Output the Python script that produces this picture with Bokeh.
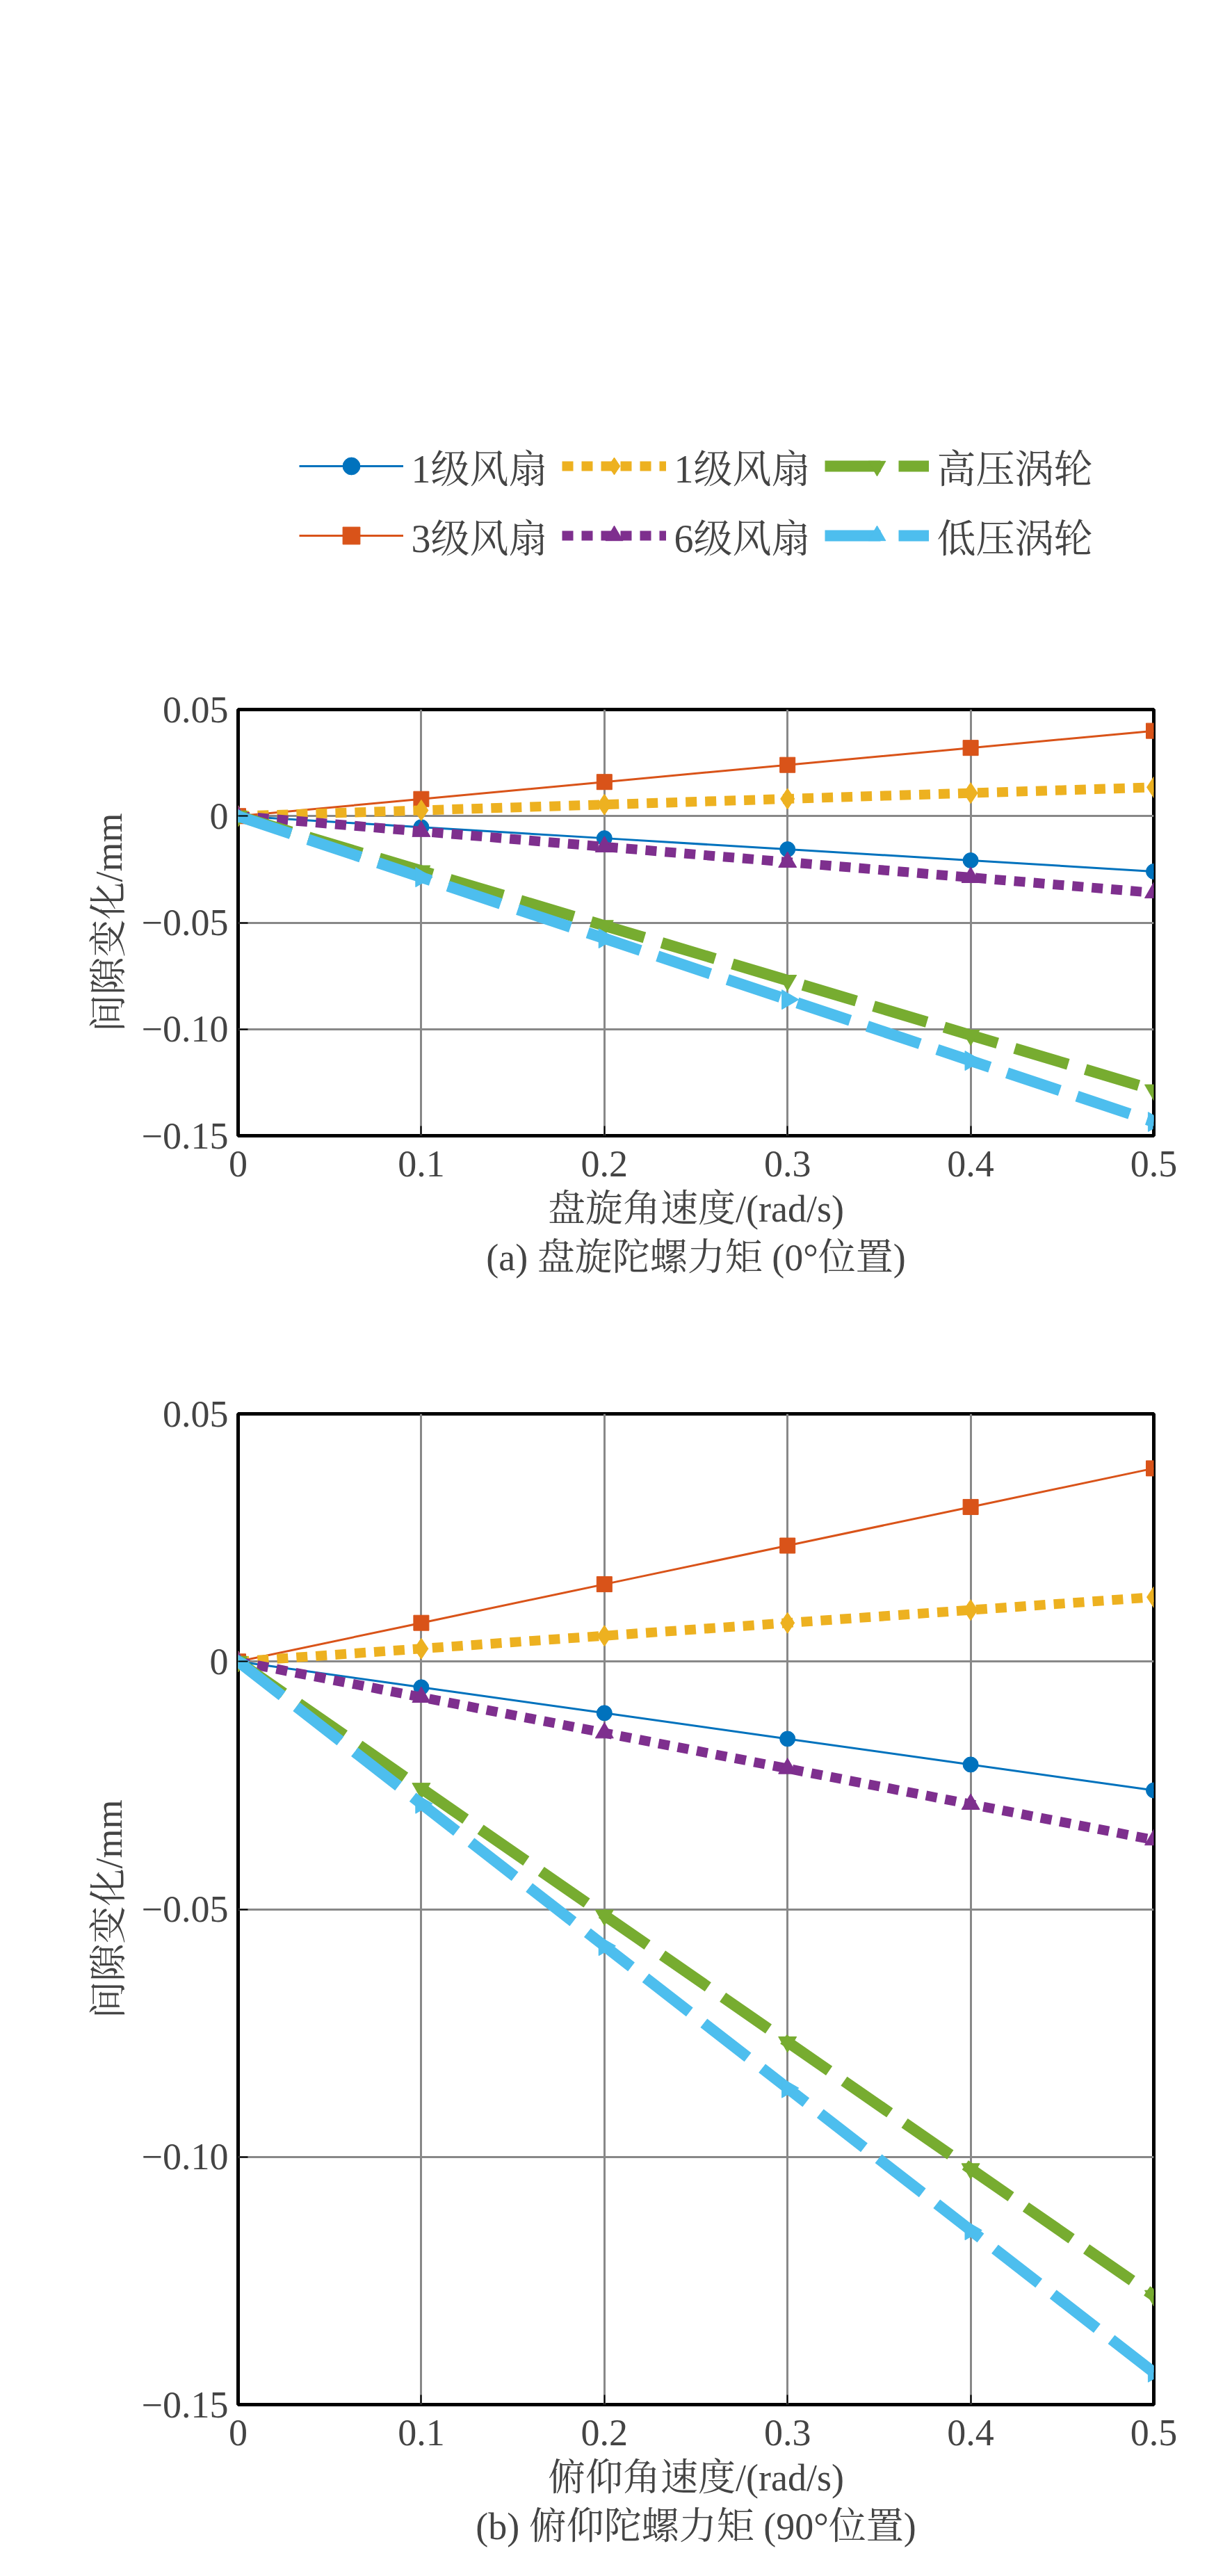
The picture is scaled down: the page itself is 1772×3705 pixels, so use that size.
from bokeh.plotting import figure
from bokeh.layouts import column
from bokeh.models import Legend, LegendItem, Title, FixedTicker, Range1d
from bokeh.embed import file_html
from bokeh.resources import INLINE

x = [0, 0.1, 0.2, 0.3, 0.4, 0.5]
names = ["1级风扇", "3级风扇", "1级风扇", "6级风扇", "高压涡轮", "低压涡轮"]
a_vals = [
    [0, -0.0052, -0.0104, -0.0156, -0.0208, -0.026],
    [0, 0.008, 0.016, 0.024, 0.032, 0.040],
    [0, 0.0027, 0.0054, 0.0081, 0.0108, 0.0135],
    [0, -0.0072, -0.0144, -0.0216, -0.0288, -0.036],
    [0, -0.0257, -0.0514, -0.0771, -0.1028, -0.1285],
    [0, -0.0287, -0.0574, -0.0861, -0.1148, -0.1435],
]
b_vals = [
    [0, -0.0052, -0.0104, -0.0156, -0.0208, -0.026],
    [0, 0.0078, 0.0156, 0.0234, 0.0312, 0.039],
    [0, 0.0026, 0.0052, 0.0078, 0.0104, 0.013],
    [0, -0.0072, -0.0144, -0.0216, -0.0288, -0.036],
    [0, -0.0256, -0.0512, -0.0768, -0.1024, -0.128],
    [0, -0.0287, -0.0574, -0.0861, -0.1148, -0.1435],
]
yticks = [-0.15, -0.10, -0.05, 0, 0.05]
ytick_labels = {-0.15: "−0.15", -0.1: "−0.10", -0.05: "−0.05", 0: "0", 0.05: "0.05"}
xtick_labels = {0: "0", 0.1: "0.1", 0.2: "0.2", 0.3: "0.3", 0.4: "0.4", 0.5: "0.5"}

colors = ["#0072BD", "#D95319", "#EDB120", "#7E2F8E", "#77AC30", "#4DBEEE"]
markers = ["circle", "square", "diamond", "triangle", "inverted_triangle", "triangle"]
angles = [0, 0, 0, 0, 0, -1.5708]
widths = [3, 3, 14, 14, 16, 16]
dashes = ["solid", "solid", "16 12", "16 12", "80 26", "80 26"]
msize = [22, 22, 30, 26, 26, 28]
FONT = "Liberation Serif, Noto Serif CJK SC, Noto Sans CJK SC"


def make(vals, xlabel, caption, top, legend):
    bottom = 230
    p = figure(width=1740, height=top + 1425 + bottom, output_backend="svg",
               toolbar_location=None, x_range=Range1d(0, 0.5), y_range=Range1d(-0.15, 0.05),
               min_border_left=342, min_border_right=81, min_border_top=0 if legend else top,
               min_border_bottom=bottom)
    p.outline_line_color = "black"
    p.outline_line_width = 5
    items = []
    for i in range(6):
        r = p.line(x, vals[i], line_color=colors[i], line_width=widths[i], line_dash=dashes[i])
        m = p.scatter(x, vals[i], marker=markers[i], size=msize[i], angle=angles[i],
                      fill_color=colors[i], line_color=colors[i])
        items.append(LegendItem(label=names[i], renderers=[r, m]))
    for ax in (p.xaxis[0], p.yaxis[0]):
        ax.axis_line_color = None
        ax.major_tick_in = 14
        ax.major_tick_out = 0
        ax.minor_tick_line_color = None
        ax.major_label_text_font = FONT
        ax.major_label_text_font_size = "54px"
        ax.axis_label_text_font = FONT
        ax.axis_label_text_font_size = "54px"
        ax.axis_label_text_font_style = "normal"
        ax.major_tick_line_width = 2
        ax.axis_label_standoff = 14
    p.xaxis.major_label_standoff = 22
    p.yaxis.major_label_standoff = 14
    p.xaxis.ticker = FixedTicker(ticks=x)
    p.xaxis.major_label_overrides = xtick_labels
    p.yaxis.ticker = FixedTicker(ticks=yticks)
    p.yaxis.major_label_overrides = ytick_labels
    p.xaxis.axis_label = xlabel
    p.yaxis.axis_label = "间隙变化/mm"
    p.grid.grid_line_color = "#888888"
    p.grid.grid_line_width = 3
    p.grid.grid_line_alpha = 1
    t = Title(text=caption, align="center", text_font=FONT, text_font_size="54px",
              text_font_style="normal")
    p.add_layout(t, "below")
    if legend:
        order = [0, 2, 4, 1, 3, 5]
        lg = Legend(items=[items[k] for k in order], orientation="horizontal", ncols=3,
                    label_text_font=FONT, label_text_font_size="56px",
                    glyph_width=150, glyph_height=62, spacing=20, label_standoff=12,
                    label_height=62,
                    border_line_color=None, background_fill_alpha=0,
                    location="center", margin=0, padding=20)
        p.add_layout(lg, "above")
    return p


pa = make(a_vals, "盘旋角速度/(rad/s)", "(a) 盘旋陀螺力矩 (0°位置)", 208, True)
pb = make(b_vals, "俯仰角速度/(rad/s)", "(b) 俯仰陀螺力矩 (90°位置)", 170, False)
layout = column(pa, pb, spacing=0)
open("out.html", "w").write(file_html(layout, INLINE))
